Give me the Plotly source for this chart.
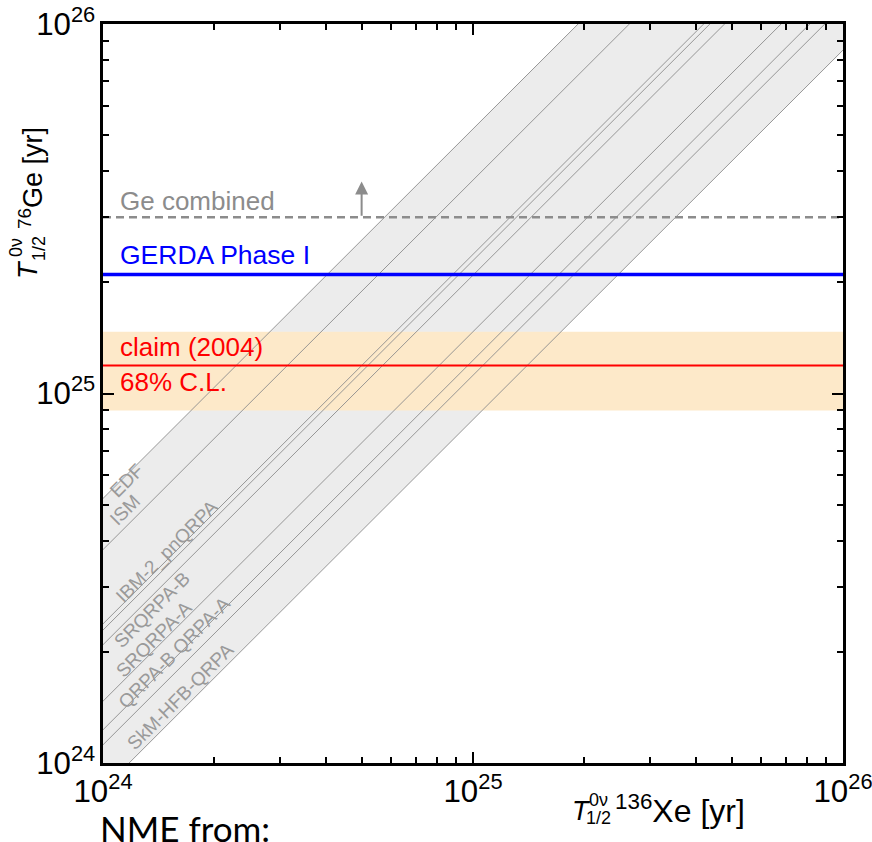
import math
import plotly.graph_objects as go

# Xe-136 half-life axis range [yr]
xe_range = [1e24, 1e26]

# ratio T1/2(Ge-76) / T1/2(Xe-136) for each nuclear matrix element calculation
nme_models = ["EDF", "ISM", "IBM-2", "pnQRPA", "SRQRPA-B", "SRQRPA-A",
              "QRPA-B", "QRPA-A", "SkM-HFB-QRPA"]
ge_xe_ratio = [5.2, 3.78, 2.38, 2.29, 2.09, 1.47, 1.23, 1.12, 0.85]

# Ge-76 half-life limits and claim [yr]
ge_combined = 3.0e25
gerda_phase1 = 2.1e25
claim_2004 = 1.19e25
claim_68cl = [0.90e25, 1.47e25]
arrow_x = 5.0e24
arrow_top = 3.75e25

# model labels and where they sit (x, y in yr)
model_labels = ["EDF", "ISM", "IBM-2_pnQRPA", "SRQRPA-B", "SRQRPA-A",
                "QRPA-B QRPA-A", "SkM-HFB-QRPA"]
label_pos = [(1.16e24, 5.80e24), (1.15e24, 4.85e24), (1.49e24, 3.72e24),
             (1.36e24, 2.60e24), (1.37e24, 2.16e24), (1.56e24, 1.99e24),
             (1.62e24, 1.51e24)]

FONT = "Liberation Sans, Arial, Helvetica, sans-serif"
BAND_GREY = "#ececec"
LINE_GREY = "#8c8c8c"
LABEL_GREY = "#9a9a9a"

lg = math.log10

fig = go.Figure()

# grey band spanned by all NME calculations
lo_r, hi_r = min(ge_xe_ratio), max(ge_xe_ratio)
fig.add_trace(go.Scatter(x=xe_range, y=[lo_r * v for v in xe_range], mode="lines",
                         line=dict(width=0), hoverinfo="skip"))
fig.add_trace(go.Scatter(x=xe_range, y=[hi_r * v for v in xe_range], mode="lines",
                         line=dict(width=0), fill="tonexty", fillcolor=BAND_GREY,
                         hoverinfo="skip"))

# 68% C.L. band of the 2004 claim
fig.add_trace(go.Scatter(x=xe_range, y=[claim_68cl[0]] * 2, mode="lines",
                         line=dict(width=0), hoverinfo="skip"))
fig.add_trace(go.Scatter(x=xe_range, y=[claim_68cl[1]] * 2, mode="lines",
                         line=dict(width=0), fill="tonexty", fillcolor="#fde9c9",
                         hoverinfo="skip"))

# one diagonal per NME model
for name, r in zip(nme_models, ge_xe_ratio):
    fig.add_trace(go.Scatter(x=xe_range, y=[r * v for v in xe_range], mode="lines",
                             name=name, line=dict(color=LINE_GREY, width=0.9)))

# horizontal limits
fig.add_trace(go.Scatter(x=xe_range, y=[claim_2004] * 2, mode="lines",
                         line=dict(color="#ff0000", width=2)))
fig.add_trace(go.Scatter(x=xe_range, y=[gerda_phase1] * 2, mode="lines",
                         line=dict(color="#0000ff", width=3.5)))
fig.add_trace(go.Scatter(x=xe_range, y=[ge_combined] * 2, mode="lines",
                         line=dict(color="#8c8c8c", width=2.5, dash="8px,5px")))

ann = []
# arrow on the combined limit (annotation coordinates on log axes are log10)
ann.append(dict(x=lg(arrow_x), y=lg(arrow_top), ax=lg(arrow_x), ay=lg(ge_combined),
                xref="x", yref="y", axref="x", ayref="y", text="",
                showarrow=True, arrowhead=2, arrowsize=1.3, arrowwidth=2,
                arrowcolor="#8c8c8c"))

text_x = lg(1.1e24)
ann.append(dict(x=text_x, y=lg(ge_combined), xref="x", yref="y", text="Ge combined",
                showarrow=False, xanchor="left", yanchor="bottom", yshift=-1,
                font=dict(family=FONT, size=26, color="#8c8c8c")))
ann.append(dict(x=text_x, y=lg(gerda_phase1), xref="x", yref="y", text="GERDA Phase I",
                showarrow=False, xanchor="left", yanchor="bottom", yshift=2,
                font=dict(family=FONT, size=26.5, color="#0000ff")))
ann.append(dict(x=text_x, y=lg(claim_2004), xref="x", yref="y", text="claim (2004)",
                showarrow=False, xanchor="left", yanchor="bottom", yshift=2,
                font=dict(family=FONT, size=26, color="#ff0000")))
ann.append(dict(x=text_x, y=lg(claim_2004), xref="x", yref="y", text="68% C.L.",
                showarrow=False, xanchor="left", yanchor="top", yshift=1,
                font=dict(family=FONT, size=26, color="#ff0000")))

for txt, (lx, ly) in zip(model_labels, label_pos):
    ann.append(dict(x=lg(lx), y=lg(ly), xref="x", yref="y", text=txt, showarrow=False,
                    textangle=-45, xanchor="center", yanchor="middle",
                    font=dict(family=FONT, size=19, color=LABEL_GREY)))

# plot area in pixels: left 103, right 843, top 24, bottom 763
L, R, T, B = 103, 843, 24, 763


def px(xp, yp):
    return (xp - L) / (R - L), (B - yp) / (B - T)


def paper_text(xp, yp, text, size, angle=0, xanchor="center", family=FONT):
    x, y = px(xp, yp)
    ann.append(dict(x=x, y=y, xref="paper", yref="paper", text=text,
                    showarrow=False, textangle=angle, xanchor=xanchor,
                    yanchor="middle", font=dict(family=family, size=size,
                                                color="black")))


# x axis title: T^{0v}_{1/2}  136Xe [yr]
paper_text(581, 811, "<i>T</i>", 27)
paper_text(598, 800, "0ν", 18)
paper_text(598, 818, "1/2", 18)
paper_text(613, 809, "<sup>136</sup>Xe [yr]", 32, xanchor="left")

# y axis title (rotated)
paper_text(28, 270, "<i>T</i>", 27, angle=-90)
paper_text(16, 248, "0ν", 18, angle=-90)
paper_text(39, 249, "1/2", 18, angle=-90)
paper_text(31, 178, "<sup>76</sup>Ge [yr]", 27, angle=-90)

# caption below the plot
paper_text(98, 828, "NME from:", 35, xanchor="left", family="Lato, Open Sans, sans-serif")

axis_common = dict(
    type="log", dtick=1, showgrid=False, zeroline=False, automargin=False,
    showline=True, linewidth=2.5, linecolor="black", mirror="allticks",
    ticks="inside", ticklen=11, tickwidth=2, tickcolor="black",
    exponentformat="power", showexponent="all", ticklabeloverflow="allow",
    tickfont=dict(family=FONT, size=25, color="black"),
    minor=dict(ticks="inside", ticklen=6, tickwidth=2, tickcolor="black",
               dtick="D1", showgrid=False),
)

fig.update_layout(
    width=872, height=842,
    margin=dict(l=L, r=872 - R, t=T, b=842 - B, autoexpand=False),
    paper_bgcolor="white", plot_bgcolor="white",
    showlegend=False,
    xaxis=dict(range=[24, 26.00001], **axis_common),
    yaxis=dict(range=[24, 26.00001], **axis_common),
    annotations=ann,
)

fig.write_html("out.html")
